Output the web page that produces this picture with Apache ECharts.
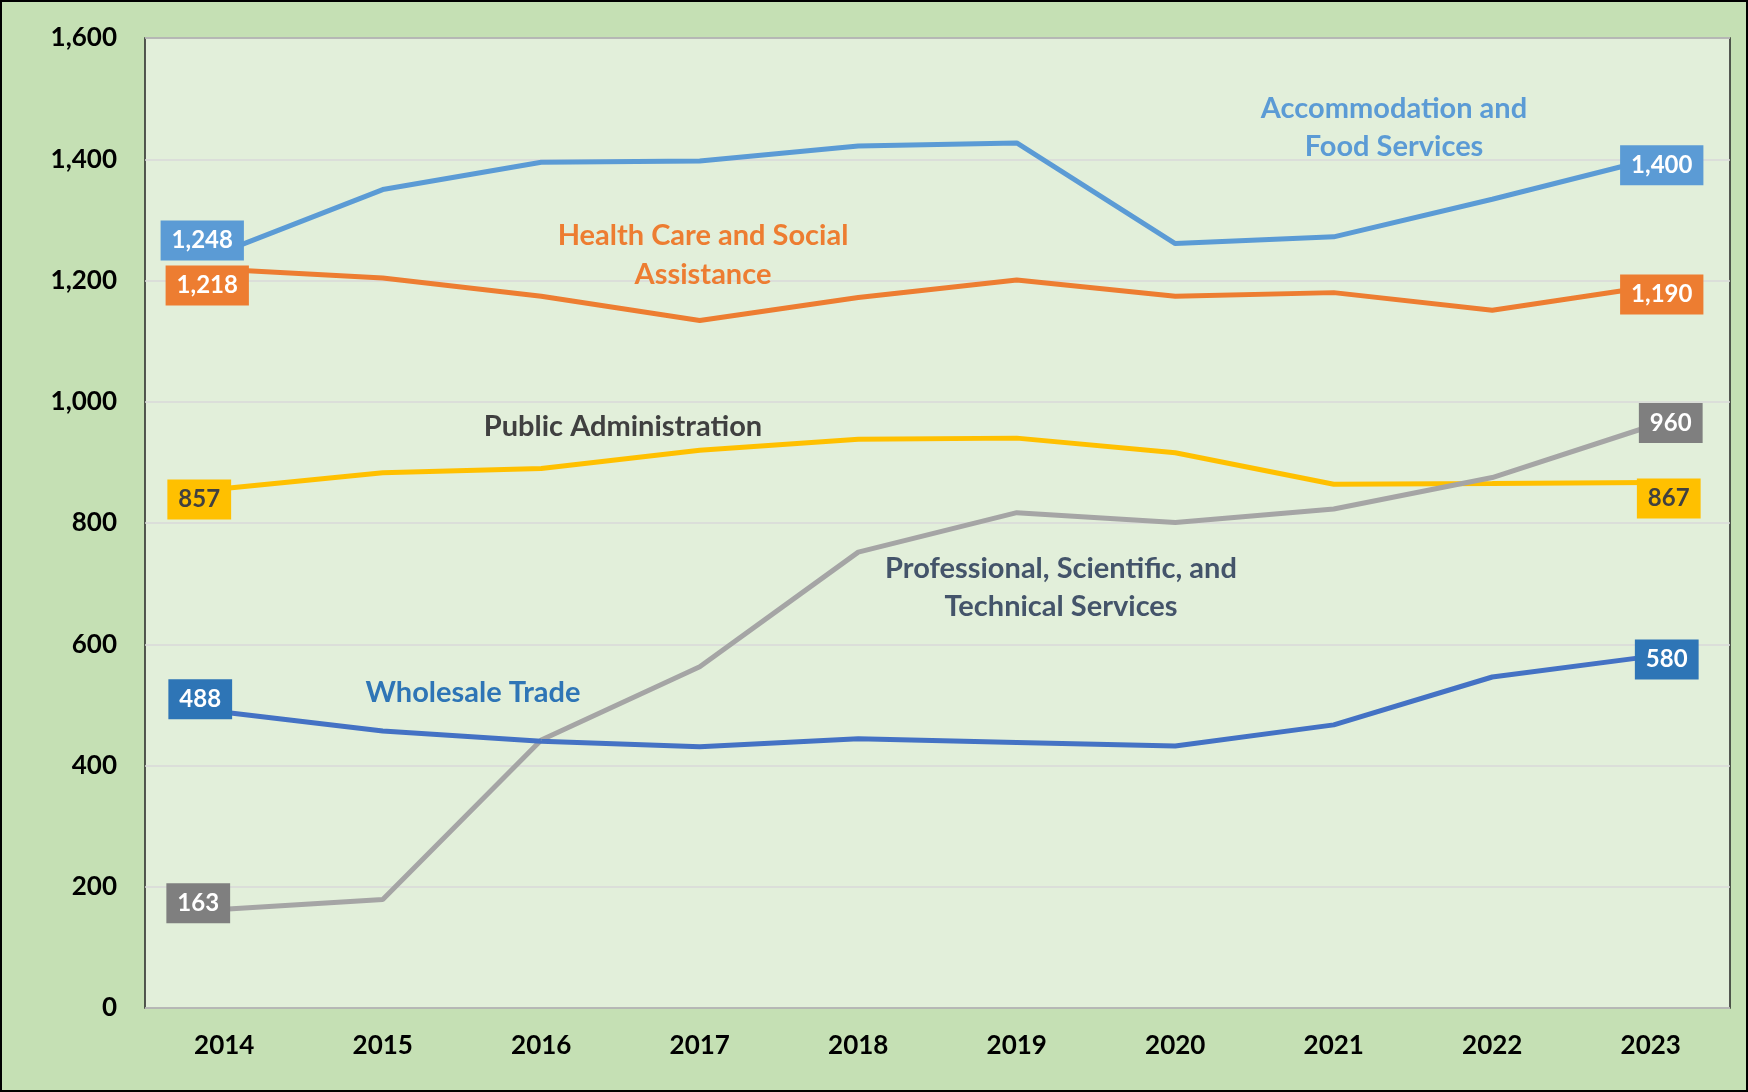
<!DOCTYPE html>
<html>
<head>
<meta charset="utf-8">
<script src="https://cdn.jsdelivr.net/npm/echarts@6/dist/echarts.min.js"></script>
<style>
html,body{margin:0;padding:0;background:#C5E0B4;}
#c{width:1748px;height:1092px;}
</style>
</head>
<body>
<div id="c"></div>
<script>
// ---- data ----
const years = ['2014','2015','2016','2017','2018','2019','2020','2021','2022','2023'];
const accommodation = [1248, 1350, 1395, 1397, 1422, 1427, 1261, 1272, 1334, 1400];
const healthCare    = [1218, 1204, 1174, 1134, 1172, 1201, 1174, 1180, 1151, 1190];
const publicAdmin   = [857, 883, 890, 920, 938, 940, 916, 864, 865, 867];
const professional  = [163, 179, 442, 563, 752, 817, 801, 823, 875, 960];
const wholesale     = [488, 457, 440, 431, 444, 438, 432, 467, 546, 580];
const yMin = 0, yMax = 1600, yStep = 200;

const FONT = 'Lato';
const fmt = v => Number(v).toLocaleString('en-US');

function makeSeries(name, values, color, boxColor, textColor, offLeft, offRight) {
  const last = values.length - 1;
  return {
    name: name,
    type: 'line',
    data: values.map((v, i) => ({
      value: v,
      label: { show: i === 0 || i === last, offset: i === 0 ? offLeft : offRight }
    })),
    symbol: 'circle',
    symbolSize: 1,
    showSymbol: true,
    itemStyle: { color: color },
    lineStyle: { color: color, width: 5 },
    label: {
      position: 'inside',
      backgroundColor: boxColor,
      color: textColor,
      fontFamily: FONT,
      fontWeight: 'bold',
      fontSize: 24,
      lineHeight: 24,
      padding: [8, 11, 8, 11],
      formatter: p => fmt(p.value)
    },
    emphasis: { disabled: true },
    silent: true,
    z: 3
  };
}

const chart = echarts.init(document.getElementById('c'));
chart.setOption({
  animation: false,
  backgroundColor: '#C5E0B4',
  grid: {
    left: 145, right: 18, top: 38, bottom: 84,
    show: true, backgroundColor: '#E2EFDA', borderColor: '#262626', borderWidth: 1.5
  },
  xAxis: {
    type: 'category',
    data: years,
    boundaryGap: true,
    axisLine: { show: false },
    axisTick: { show: false },
    axisLabel: { color: '#000', fontFamily: FONT, fontWeight: 'bold', fontSize: 26, margin: 25 }
  },
  yAxis: {
    type: 'value',
    min: yMin, max: yMax, interval: yStep,
    axisLine: { show: false },
    axisTick: { show: false },
    splitLine: { lineStyle: { color: '#D9D9D9', width: 1.5 } },
    axisLabel: { color: '#000', fontFamily: FONT, fontWeight: 'bold', fontSize: 26, margin: 28, formatter: v => fmt(v) }
  },
  series: [
    makeSeries('Accommodation and Food Services', accommodation, '#5B9BD5', '#5B9BD5', '#FFFFFF', [-22, -11], [11, 6]),
    makeSeries('Health Care and Social Assistance', healthCare, '#ED7D31', '#ED7D31', '#FFFFFF', [-17, 16], [11, 8]),
    makeSeries('Public Administration', publicAdmin, '#FFC000', '#FFC000', '#404040', [-25, 11], [18, 16]),
    makeSeries('Professional, Scientific, and Technical Services', professional, '#A5A5A5', '#7F7F7F', '#FFFFFF', [-26, -6], [20, -3]),
    makeSeries('Wholesale Trade', wholesale, '#4472C4', '#2E75B6', '#FFFFFF', [-24, -13], [16, 3])
  ],
  graphic: [
    { type: 'rect', shape: { x: 1, y: 1, width: 1746, height: 1090 }, style: { fill: 'none', stroke: '#000', lineWidth: 2 }, silent: true, z: 10 },
    { type: 'text', x: 1394, y: 128, style: { text: 'Accommodation and\nFood Services', fill: '#5B9BD5', font: 'bold 29px Lato', textAlign: 'center', textVerticalAlign: 'middle', lineHeight: 38 }, z: 5 },
    { type: 'text', x: 703, y: 255, style: { text: 'Health Care and Social\nAssistance', fill: '#ED7D31', font: 'bold 29px Lato', textAlign: 'center', textVerticalAlign: 'middle', lineHeight: 39 }, z: 5 },
    { type: 'text', x: 623, y: 427, style: { text: 'Public Administration', fill: '#404040', font: 'bold 29px Lato', textAlign: 'center', textVerticalAlign: 'middle' }, z: 5 },
    { type: 'text', x: 1061, y: 588, style: { text: 'Professional, Scientific, and\nTechnical Services', fill: '#44546A', font: 'bold 29px Lato', textAlign: 'center', textVerticalAlign: 'middle', lineHeight: 38 }, z: 5 },
    { type: 'text', x: 473, y: 693, style: { text: 'Wholesale Trade', fill: '#2E75B6', font: 'bold 29px Lato', textAlign: 'center', textVerticalAlign: 'middle' }, z: 5 }
  ]
});
</script>
</body>
</html>
